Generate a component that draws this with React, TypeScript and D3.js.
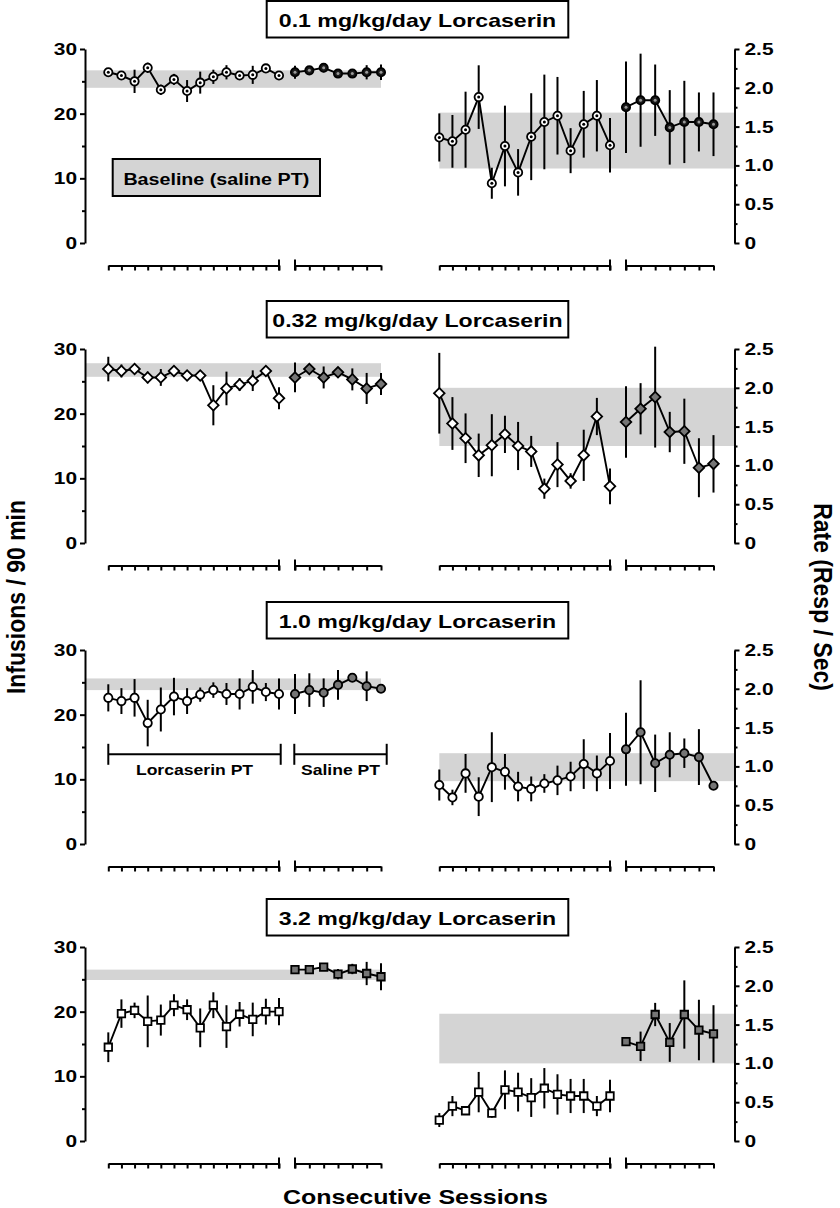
import * as d3 from "d3";
import { useEffect, useRef } from "react";

// 0.1 mg/kg/day
const inf01Lor = [26.4, 25.9, 25.0, 27.1, 23.7, 25.3, 23.5, 24.8, 25.7, 26.4, 25.9, 26.0, 27.0, 25.9];
const inf01LorSem = [0.4, 0.5, 1.8, 0.8, 0.8, 0.85, 1.7, 1.7, 1.1, 1.1, 0.5, 1.4, 0.5, 0.5];
const inf01Sal = [26.4, 26.7, 27.1, 26.2, 26.2, 26.4, 26.4];
const inf01SalSem = [1.0, 0.5, 0.7, 0.6, 0.6, 1.1, 1.2];
const inf01Band = [24.0, 26.7];
const rate01Lor = [1.36, 1.31, 1.46, 1.88, 0.77, 1.25, 0.91, 1.37, 1.56, 1.64, 1.19, 1.53, 1.64, 1.26];
const rate01LorSem = [0.31, 0.34, 0.49, 0.41, 0.2, 0.52, 0.3, 0.56, 0.61, 0.5, 0.29, 0.43, 0.46, 0.35];
const rate01Sal = [1.75, 1.84, 1.84, 1.49, 1.56, 1.56, 1.53];
const rate01SalSem = [0.59, 0.6, 0.46, 0.48, 0.53, 0.38, 0.41];
const rate01Band = [0.96, 1.68];

// 0.32 mg/kg/day
const inf032Lor = [26.9, 26.6, 26.9, 25.6, 25.6, 26.6, 25.9, 25.9, 21.3, 23.9, 24.5, 25.1, 26.6, 22.4];
const inf032LorSem = [1.9, 1.0, 0.5, 0.9, 1.3, 0.5, 0.6, 0.4, 3.1, 2.6, 1.0, 1.6, 0.4, 1.7];
const inf032Sal = [25.6, 26.9, 25.6, 26.4, 25.3, 23.9, 24.6];
const inf032SalSem = [2.3, 0.5, 1.7, 0.6, 1.7, 2.4, 1.7];
const inf032Band = [25.7, 27.8];
const rate032Lor = [1.93, 1.54, 1.35, 1.13, 1.26, 1.4, 1.25, 1.18, 0.7, 1.01, 0.8, 1.13, 1.63, 0.73];
const rate032LorSem = [0.52, 0.34, 0.32, 0.28, 0.4, 0.24, 0.31, 0.2, 0.13, 0.29, 0.1, 0.33, 0.24, 0.23];
const rate032Sal = [1.56, 1.73, 1.88, 1.43, 1.44, 0.97, 1.02];
const rate032SalSem = [0.46, 0.33, 0.65, 0.26, 0.42, 0.38, 0.37];
const rate032Band = [1.25, 2.0];

// 1.0 mg/kg/day
const inf10Lor = [22.6, 22.1, 22.6, 18.7, 20.8, 22.8, 22.1, 23.1, 23.8, 23.2, 23.2, 24.3, 23.5, 23.2];
const inf10LorSem = [2.1, 2.0, 2.9, 3.6, 3.4, 2.9, 2.0, 1.1, 1.2, 1.7, 2.4, 2.6, 1.4, 2.4];
const inf10Sal = [23.2, 23.8, 23.4, 24.6, 25.7, 24.4, 24.0];
const inf10SalSem = [3.1, 2.6, 2.2, 2.3, 0.4, 2.3, 0.4];
const inf10Band = [23.8, 25.6];
const rate10Lor = [0.76, 0.6, 0.91, 0.61, 0.99, 0.93, 0.74, 0.71, 0.78, 0.82, 0.87, 1.03, 0.91, 1.07];
const rate10LorSem = [0.2, 0.1, 0.25, 0.25, 0.45, 0.23, 0.19, 0.16, 0.12, 0.19, 0.19, 0.32, 0.23, 0.36];
const rate10Sal = [1.22, 1.44, 1.04, 1.15, 1.17, 1.12, 0.75];
const rate10SalSem = [0.47, 0.67, 0.37, 0.29, 0.19, 0.36, 0.05];
const rate10Band = [0.81, 1.17];

// 3.2 mg/kg/day
const inf32Lor = [14.5, 19.7, 20.2, 18.5, 18.7, 21.0, 20.3, 17.5, 21.0, 17.7, 19.6, 18.8, 20.0, 20.0];
const inf32LorSem = [2.3, 2.2, 1.2, 4.0, 2.4, 1.7, 1.6, 3.0, 2.0, 3.3, 1.9, 2.6, 2.0, 2.1];
const inf32Sal = [26.5, 26.5, 26.9, 25.8, 26.6, 25.9, 25.4];
const inf32SalSem = [0.3, 0.3, 0.5, 0.8, 0.8, 1.8, 2.1];
const inf32Band = [24.9, 26.5];
const rate32Lor = [0.27, 0.45, 0.39, 0.63, 0.36, 0.66, 0.63, 0.56, 0.68, 0.6, 0.58, 0.58, 0.45, 0.58];
const rate32LorSem = [0.09, 0.13, 0.05, 0.26, 0.06, 0.25, 0.25, 0.25, 0.26, 0.26, 0.22, 0.22, 0.13, 0.21];
const rate32Sal = [1.28, 1.22, 1.63, 1.27, 1.63, 1.43, 1.38];
const rate32SalSem = [0.05, 0.19, 0.15, 0.25, 0.44, 0.39, 0.37];
const rate32Band = [1.0, 1.64];

const titles = [
  "0.1 mg/kg/day Lorcaserin",
  "0.32 mg/kg/day Lorcaserin",
  "1.0 mg/kg/day Lorcaserin",
  "3.2 mg/kg/day Lorcaserin",
];
const markers = ["dot", "diamond", "circle", "square"];
const infTicks = [0, 10, 20, 30];
const infMinor = [5, 15, 25];
const rateTicks = [0, 0.5, 1.0, 1.5, 2.0, 2.5];
const rateMinor = [0.25, 0.75, 1.25, 1.75, 2.25];

const panels = [
  { infLor: inf01Lor, infLorSem: inf01LorSem, infSal: inf01Sal, infSalSem: inf01SalSem, infBand: inf01Band,
    rateLor: rate01Lor, rateLorSem: rate01LorSem, rateSal: rate01Sal, rateSalSem: rate01SalSem, rateBand: rate01Band },
  { infLor: inf032Lor, infLorSem: inf032LorSem, infSal: inf032Sal, infSalSem: inf032SalSem, infBand: inf032Band,
    rateLor: rate032Lor, rateLorSem: rate032LorSem, rateSal: rate032Sal, rateSalSem: rate032SalSem, rateBand: rate032Band },
  { infLor: inf10Lor, infLorSem: inf10LorSem, infSal: inf10Sal, infSalSem: inf10SalSem, infBand: inf10Band,
    rateLor: rate10Lor, rateLorSem: rate10LorSem, rateSal: rate10Sal, rateSalSem: rate10SalSem, rateBand: rate10Band },
  { infLor: inf32Lor, infLorSem: inf32LorSem, infSal: inf32Sal, infSalSem: inf32SalSem, infBand: inf32Band,
    rateLor: rate32Lor, rateLorSem: rate32LorSem, rateSal: rate32Sal, rateSalSem: rate32SalSem, rateBand: rate32Band },
];

const W = 840;
const H = 1208;
const FONT = "'Liberation Sans', Arial, sans-serif";
const SX = 1.23; // the original artwork is stretched sideways
const SX_ROT = 1.1;
const BAND = "#d4d4d4";
const GREY = "#757575";
const PANEL_TOP = [49, 349, 650, 947];
const PLOT_H = 194;
const AXIS_L = 85;
const AXIS_R = 734.5;
const X_A = [108.3, 279];
const X_B = [295, 381];
const X_C = [439.3, 610];
const X_D = [626, 713.5];

function symbolPath(kind) {
  if (kind === "diamond") return d3.symbol(d3.symbolSquare, 56)();
  if (kind === "square") return d3.symbol(d3.symbolSquare, 56)();
  return d3.symbol(d3.symbolCircle, 54)();
}

function drawSeries(g, x, y, vals, sem, kind, filled) {
  const idx = d3.range(1, vals.length + 1);

  // error bars
  g.append("g")
    .selectAll("line")
    .data(idx)
    .join("line")
    .attr("x1", i => x(i))
    .attr("x2", i => x(i))
    .attr("y1", i => y(vals[i - 1] - sem[i - 1]))
    .attr("y2", i => y(vals[i - 1] + sem[i - 1]))
    .attr("stroke", "#000")
    .attr("stroke-width", 2);

  const line = d3.line().x(i => x(i)).y(i => y(vals[i - 1]));
  g.append("path")
    .datum(idx)
    .attr("d", line)
    .attr("fill", "none")
    .attr("stroke", "#000")
    .attr("stroke-width", 1.9);

  const fill = kind === "dot" ? (filled ? "#1a1a1a" : "#fff") : filled ? GREY : "#fff";
  g.append("g")
    .selectAll("path")
    .data(idx)
    .join("path")
    .attr("d", symbolPath(kind))
    .attr("transform", i => `translate(${x(i)},${y(vals[i - 1])})${kind === "diamond" ? " rotate(45)" : ""}`)
    .attr("fill", fill)
    .attr("stroke", "#000")
    .attr("stroke-width", 1.8);

  if (kind === "dot") {
    g.append("g")
      .selectAll("circle")
      .data(idx)
      .join("circle")
      .attr("cx", i => x(i))
      .attr("cy", i => y(vals[i - 1]))
      .attr("r", 1.5)
      .attr("fill", filled ? "#9a9a9a" : "#000");
  }
}

function boldText(sel, size) {
  return sel
    .attr("fill", "#000")
    .style("font-family", FONT)
    .style("font-weight", "bold")
    .style("font-size", `${size}px`);
}

// horizontal label, widened like the source
function label(parent, x, y, text, size, anchor = "middle") {
  return boldText(
    parent.append("text")
      .attr("transform", `translate(${x},${y}) scale(${SX},1)`)
      .attr("text-anchor", anchor)
      .text(text),
    size
  );
}

function styleAxis(sel, size) {
  sel.selectAll("path, line").attr("stroke", "#000").attr("stroke-width", 2);
  boldText(sel.selectAll("text"), size)
    .attr("x", function () { return +d3.select(this).attr("x") / SX; })
    .attr("transform", `scale(${SX},1)`);
}

function drawXAxis(g, x, n, yPos, breakAt) {
  const ax = g.append("g")
    .attr("transform", `translate(0,${yPos})`)
    .call(d3.axisBottom(x).tickValues(d3.range(1, n + 1)).tickSize(5).tickSizeOuter(0).tickFormat(() => ""));
  styleAxis(ax, 10);
  ax.append("line")
    .attr("x1", x(breakAt))
    .attr("x2", x(breakAt))
    .attr("y1", -6)
    .attr("y2", 5)
    .attr("stroke", "#000")
    .attr("stroke-width", 2);
}

export default function App() {
  const ref = useRef(null);

  useEffect(() => {
    const svg = d3.select(ref.current);
    svg.selectAll("*").remove();

    panels.forEach((p, k) => {
      const top = PANEL_TOP[k];
      const bottom = top + PLOT_H;
      const kind = markers[k];
      const yL = d3.scaleLinear().domain([0, 30]).range([bottom, top]);
      const yR = d3.scaleLinear().domain([0, 2.5]).range([bottom, top]);
      const xA = d3.scaleLinear().domain([1, 14]).range(X_A);
      const xB = d3.scaleLinear().domain([1, 7]).range(X_B);
      const xC = d3.scaleLinear().domain([1, 14]).range(X_C);
      const xD = d3.scaleLinear().domain([1, 7]).range(X_D);
      const g = svg.append("g");

      // baseline bands
      g.append("rect")
        .attr("x", AXIS_L)
        .attr("width", X_B[1] - AXIS_L)
        .attr("y", yL(p.infBand[1]))
        .attr("height", yL(p.infBand[0]) - yL(p.infBand[1]))
        .attr("fill", BAND);
      g.append("rect")
        .attr("x", X_C[0])
        .attr("width", AXIS_R - X_C[0])
        .attr("y", yR(p.rateBand[1]))
        .attr("height", yR(p.rateBand[0]) - yR(p.rateBand[1]))
        .attr("fill", BAND);

      // left axis
      const axL = g.append("g")
        .attr("transform", `translate(${AXIS_L},0)`)
        .call(d3.axisLeft(yL).tickValues(infTicks).tickSize(5).tickSizeOuter(0).tickPadding(3).tickFormat(d3.format("d")));
      styleAxis(axL, 17);
      const axLm = g.append("g")
        .attr("transform", `translate(${AXIS_L},0)`)
        .call(d3.axisLeft(yL).tickValues(infMinor).tickSize(3).tickFormat(() => ""));
      axLm.select(".domain").remove();
      styleAxis(axLm, 10);

      // right axis
      const axR = g.append("g")
        .attr("transform", `translate(${AXIS_R},0)`)
        .call(d3.axisRight(yR).tickValues(rateTicks).tickSize(5).tickSizeOuter(0).tickPadding(5)
          .tickFormat(d => (d === 0 ? "0" : d3.format(".1f")(d))));
      styleAxis(axR, 17);
      const axRm = g.append("g")
        .attr("transform", `translate(${AXIS_R},0)`)
        .call(d3.axisRight(yR).tickValues(rateMinor).tickSize(3).tickFormat(() => ""));
      axRm.select(".domain").remove();
      styleAxis(axRm, 10);

      // session axes
      const xy = bottom + 22.5;
      drawXAxis(g, xA, 14, xy, 14);
      drawXAxis(g, xB, 7, xy, 1);
      drawXAxis(g, xC, 14, xy, 14);
      drawXAxis(g, xD, 7, xy, 1);

      // data
      drawSeries(g, xA, yL, p.infLor, p.infLorSem, kind, false);
      drawSeries(g, xB, yL, p.infSal, p.infSalSem, kind, true);
      drawSeries(g, xC, yR, p.rateLor, p.rateLorSem, kind, false);
      drawSeries(g, xD, yR, p.rateSal, p.rateSalSem, kind, true);

      // title box
      const bx = 266.7;
      const bw = 301.6;
      const by = top - 48;
      g.append("rect")
        .attr("x", bx)
        .attr("y", by)
        .attr("width", bw)
        .attr("height", 36.5)
        .attr("fill", "#fff")
        .attr("stroke", "#000")
        .attr("stroke-width", 2);
      label(g, bx + bw / 2, by + 25.5, titles[k], 18.8);

      if (k === 0) {
        g.append("rect")
          .attr("x", 112.7)
          .attr("y", 159)
          .attr("width", 207.3)
          .attr("height", 37)
          .attr("fill", BAND)
          .attr("stroke", "#000")
          .attr("stroke-width", 2);
        label(g, 216.3, 184.5, "Baseline (saline PT)", 16);
      }

      if (k === 2) {
        const brY = top + 104.3;
        const brackets = [
          { x0: X_A[0], x1: X_A[1] + 1.7, text: "Lorcaserin PT" },
          { x0: X_B[0] - 0.7, x1: X_B[1] + 5.7, text: "Saline PT" },
        ];
        brackets.forEach(b => {
          const bg = g.append("g").attr("stroke", "#000").attr("stroke-width", 2);
          bg.append("line").attr("x1", b.x0).attr("x2", b.x1).attr("y1", brY).attr("y2", brY);
          bg.append("line").attr("x1", b.x0).attr("x2", b.x0).attr("y1", brY - 10.5).attr("y2", brY + 10.5);
          bg.append("line").attr("x1", b.x1).attr("x2", b.x1).attr("y1", brY - 10.5).attr("y2", brY + 10.5);
          label(g, (b.x0 + b.x1) / 2, brY + 21, b.text, 14.3);
        });
      }
    });

    // axis titles
    boldText(
      svg.append("text")
        .attr("transform", `translate(25,597) rotate(-90) scale(1,${SX_ROT})`)
        .attr("text-anchor", "middle")
        .text("Infusions / 90 min"),
      23
    );

    boldText(
      svg.append("text")
        .attr("transform", `translate(814,597) rotate(90) scale(1,${SX_ROT})`)
        .attr("text-anchor", "middle")
        .text("Rate (Resp / Sec)"),
      23
    );

    label(svg, 415.5, 1204, "Consecutive Sessions", 20.3);
  }, []);

  return (
    <svg
      ref={ref}
      width={W}
      height={H}
      style={{ position: "absolute", left: 0, top: 0, background: "#fff" }}
    />
  );
}
